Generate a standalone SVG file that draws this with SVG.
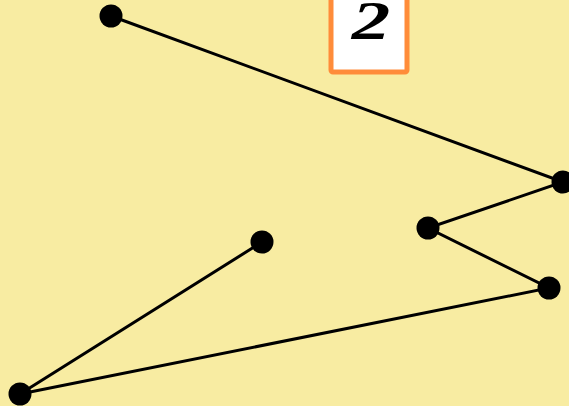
<svg xmlns="http://www.w3.org/2000/svg" width="569" height="406" viewBox="0 0 569 406">
<style>
.e{stroke:#000;stroke-width:3;fill:none}
.n{fill:#000}
</style>
<rect width="569" height="406" fill="#f8eca2"/>
<g id="label">
<rect x="331" y="-6" width="76" height="78" fill="#fff" stroke="#ff8c3a" stroke-width="5" rx="2"/>
<text transform="translate(371,39) scale(1.4,1)" x="0" y="0" font-family="Liberation Serif, serif" font-style="italic" font-weight="bold" font-size="55" text-anchor="middle" fill="#000">2</text>
</g>
<g id="connectors">
<path class="e" d="M111,16 L563,182 L428,228 L549,288 L20,394 L262,242"/>
</g>
<g id="n1"><circle class="n" cx="111" cy="16" r="11.5"/></g>
<g id="n2"><circle class="n" cx="563" cy="182" r="11.5"/></g>
<g id="n3"><circle class="n" cx="428" cy="228" r="11.5"/></g>
<g id="n4"><circle class="n" cx="549" cy="288" r="11.5"/></g>
<g id="n5"><circle class="n" cx="20" cy="394" r="11.5"/></g>
<g id="n6"><circle class="n" cx="262" cy="242" r="11.5"/></g>
</svg>
